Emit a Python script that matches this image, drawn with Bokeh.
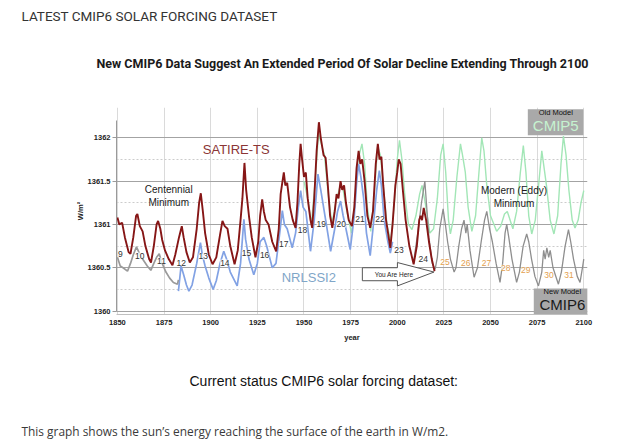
from bokeh.plotting import figure
from bokeh.models import (Range1d, Label, LabelSet, ColumnDataSource, Title,
                          SingleIntervalTicker, CustomJSTickFormatter)
from bokeh.core.properties import value
from bokeh.embed import file_html
from bokeh.resources import INLINE

# ---------------- data ----------------
satire_year = [1850, 1851, 1852.5, 1854, 1856, 1857, 1858.5, 1860, 1860.7, 1862, 1863.5, 1865, 1867, 1868,
               1869.5, 1871, 1871.8, 1873, 1874, 1875.5, 1877.5, 1879.5, 1881, 1883, 1884.5, 1885.5, 1887,
               1888.8, 1890.5, 1892.5, 1893.8, 1894.7, 1895.8, 1897, 1899, 1901, 1903, 1905, 1906.3, 1907.5,
               1909, 1910.5, 1912.8, 1914.5, 1916, 1917, 1918.1, 1919, 1920.5, 1922, 1924, 1925.5, 1926.5,
               1927.6, 1928.5, 1929.5, 1931, 1933, 1935.1, 1936.5, 1937.5, 1938.5, 1939.2, 1940, 1941, 1942.5,
               1944, 1945.5, 1946.5, 1947.5, 1948.2, 1949, 1950, 1951, 1952, 1953.5, 1954.4, 1955.5, 1956.8,
               1958, 1959, 1960.5, 1961.6, 1962.8, 1964, 1965.2, 1966.5, 1967.5, 1968.5, 1969.6, 1970.5,
               1971.5, 1972.5, 1974, 1975.7, 1977, 1978.2, 1979.3, 1980.2, 1981.2, 1982.5, 1984, 1985.5, 1987,
               1988.5, 1989.6, 1990.5, 1991.5, 1992.5, 1994, 1996.3, 1997.5, 1999, 2000, 2000.8, 2001.8, 2003,
               2004.5, 2006.5, 2008.8, 2010.5, 2011.8, 2012.5, 2013.3, 2014.2, 2015.5, 2017, 2018.5, 2020]
satire_tsi = [1361.08, 1361.00, 1361.02, 1360.85, 1360.68, 1360.66, 1360.85, 1361.10, 1361.12, 1360.98, 1360.92,
              1360.75, 1360.60, 1360.56, 1360.75, 1361.00, 1361.04, 1360.95, 1360.82, 1360.70, 1360.60, 1360.53,
              1360.65, 1360.85, 1360.98, 1360.85, 1360.68, 1360.56, 1360.62, 1360.95, 1361.25, 1361.36, 1361.15,
              1360.90, 1360.65, 1360.54, 1360.62, 1360.88, 1361.04, 1360.98, 1360.95, 1360.75, 1360.54, 1360.70,
              1361.05, 1361.30, 1361.71, 1361.40, 1361.10, 1360.85, 1360.62, 1360.80, 1361.10, 1361.29, 1361.15,
              1361.05, 1361.00, 1360.80, 1360.69, 1360.95, 1361.35, 1361.50, 1361.60, 1361.45, 1361.48, 1361.20,
              1361.05, 1360.96, 1361.25, 1361.70, 1361.93, 1361.75, 1361.55, 1361.60, 1361.30, 1361.05, 1360.96,
              1361.30, 1361.85, 1362.18, 1362.00, 1361.80, 1361.77, 1361.45, 1361.10, 1360.96, 1361.15, 1361.35,
              1361.30, 1361.50, 1361.40, 1361.45, 1361.25, 1361.05, 1360.98, 1361.20, 1361.65, 1361.85, 1361.70,
              1361.75, 1361.50, 1361.10, 1360.96, 1361.15, 1361.70, 1361.93, 1361.75, 1361.78, 1361.45, 1361.05,
              1360.73, 1361.00, 1361.45, 1361.60, 1361.75, 1361.70, 1361.40, 1361.05, 1360.75, 1360.54, 1360.75,
              1361.05, 1361.10, 1361.05, 1361.19, 1361.05, 1360.80, 1360.60, 1360.46]

nrlssi2_year = [1882.7, 1884.1, 1885.5, 1887, 1888.3, 1890, 1892.5, 1894.5, 1895.5, 1897, 1899, 1901.3, 1903,
                1905, 1907, 1908.5, 1910.5, 1914.2, 1916, 1917.8, 1918.7, 1920.5, 1923.1, 1925, 1926.5, 1928.5,
                1930, 1933, 1935, 1937, 1938.4, 1939.5, 1941, 1943.7, 1945.5, 1947, 1948.2, 1949.5, 1951,
                1953.5, 1955.5, 1957.5, 1959, 1960.5, 1962, 1964.3, 1966.5, 1968, 1969.6, 1971, 1972.5, 1974.8,
                1977, 1978.3, 1979.3, 1980.5, 1982, 1983.5, 1985.5, 1987, 1989, 1990.4, 1991.5, 1993, 1995,
                1996.3, 1997.5]
nrlssi2_tsi = [1360.23, 1360.52, 1360.42, 1360.30, 1360.23, 1360.30, 1360.55, 1360.79, 1360.65, 1360.52, 1360.38,
               1360.25, 1360.35, 1360.55, 1360.69, 1360.60, 1360.45, 1360.29, 1360.55, 1361.06, 1360.83, 1360.60,
               1360.42, 1360.55, 1360.80, 1360.85, 1360.75, 1360.50, 1360.55, 1360.90, 1361.16, 1361.00, 1360.95,
               1360.73, 1360.90, 1361.20, 1361.39, 1361.20, 1361.15, 1360.69, 1361.05, 1361.58, 1361.40, 1361.20,
               1361.00, 1360.69, 1360.95, 1361.15, 1361.27, 1361.10, 1360.95, 1360.71, 1361.10, 1361.50, 1361.70,
               1361.55, 1361.30, 1360.90, 1360.64, 1360.95, 1361.40, 1361.62, 1361.45, 1361.05, 1360.80, 1360.67,
               1360.80]

early_year = [1850, 1851.5, 1853, 1855.4, 1857, 1858.5, 1860.2, 1861.5, 1863.5, 1866, 1867.9, 1869.5, 1871,
              1872.4, 1874, 1876, 1878, 1880, 1882.2, 1882.7]
early_tsi = [1360.62, 1360.52, 1360.50, 1360.46, 1360.55, 1360.65, 1360.74, 1360.68, 1360.60, 1360.52, 1360.47,
             1360.55, 1360.62, 1360.66, 1360.55, 1360.45, 1360.38, 1360.33, 1360.31, 1360.36]

cmip5_year = [1950, 1952, 1954, 1956, 1957.8, 1959, 1961, 1963, 1965, 1967, 1969.5, 1971, 1973, 1975.5, 1977.5,
              1979, 1981.1, 1982.5, 1984, 1985.8, 1987.5, 1989.5, 1991, 1992.5, 1994.5, 1996.5, 1998.5, 2000,
              2001.2, 2002.5, 2004, 2006, 2007.9, 2010, 2012, 2013.3, 2015, 2017.5, 2019.5, 2021.5, 2023.3,
              2024.6, 2026, 2027.5, 2028.5, 2030, 2032, 2033.9, 2035, 2036.5, 2038, 2040, 2042, 2043.8, 2045.3,
              2046.5, 2048, 2050, 2053.3, 2055.5, 2057.5, 2059, 2062, 2064, 2066, 2067.6, 2069, 2070.5, 2072.1,
              2074, 2076, 2077.5, 2080, 2082, 2084, 2086, 2087.8, 2089.1, 2090.5, 2092, 2093.8, 2095.3, 2097,
              2098.5, 2100]
cmip5_tsi = [1361.50, 1361.30, 1361.00, 1361.50, 1362.05, 1361.95, 1361.80, 1361.35, 1361.00, 1361.25, 1361.45,
             1361.40, 1361.15, 1360.90, 1361.30, 1361.75, 1361.93, 1361.70, 1361.20, 1360.92, 1361.30, 1361.90,
             1361.80, 1361.45, 1361.00, 1360.80, 1361.25, 1361.75, 1361.97, 1361.75, 1361.35, 1361.00, 1360.94,
             1361.10, 1361.35, 1361.45, 1361.25, 1360.90, 1360.95, 1361.30, 1361.80, 1361.93, 1361.60, 1361.05,
             1360.89, 1361.05, 1361.55, 1361.93, 1361.80, 1361.60, 1361.20, 1360.92, 1361.10, 1361.60, 1362.00,
             1361.85, 1361.45, 1361.10, 1360.92, 1360.98, 1361.12, 1361.15, 1360.95, 1361.15, 1361.60, 1361.91,
             1361.60, 1361.10, 1360.89, 1361.05, 1361.50, 1361.85, 1361.45, 1361.05, 1360.89, 1361.10, 1361.70,
             1362.02, 1361.80, 1361.40, 1361.05, 1360.96, 1361.05, 1361.25, 1361.39]

cmip6_year = [2009, 2011, 2013, 2014.8, 2015.8, 2017, 2018.8, 2020.3, 2021.5, 2022.8, 2024.6, 2025.8, 2027,
              2028.5, 2030.5, 2031.5, 2033, 2034.5, 2035.8, 2036.8, 2037.5, 2039, 2041.2, 2043, 2045, 2046.8,
              2048, 2049.5, 2051, 2053, 2055.1, 2056.5, 2057.8, 2058.7, 2059.8, 2061.5, 2064, 2065.5, 2067.5,
              2069.4, 2070.5, 2072, 2073.8, 2075.7, 2077.5, 2078.5, 2079.3, 2080.2, 2081.2, 2082, 2083.5,
              2086.4, 2088, 2090, 2091.8, 2093, 2094.5, 2096.5, 2098, 2099.3, 2100]
cmip6_tsi = [1360.60, 1360.90, 1361.25, 1361.50, 1361.20, 1360.85, 1360.55, 1360.48, 1360.62, 1360.95, 1361.18,
             1361.00, 1360.80, 1360.60, 1360.45, 1360.50, 1360.75, 1360.95, 1361.05, 1360.90, 1361.00, 1360.70,
             1360.39, 1360.50, 1360.80, 1361.05, 1361.15, 1360.95, 1360.80, 1360.55, 1360.33, 1360.55, 1360.90,
             1361.00, 1360.85, 1360.60, 1360.33, 1360.45, 1360.75, 1360.89, 1360.80, 1360.60, 1360.40, 1360.29,
             1360.45, 1360.70, 1360.60, 1360.73, 1360.62, 1360.70, 1360.50, 1360.31, 1360.45, 1360.75, 1360.94,
             1360.80, 1360.60, 1360.40, 1360.33, 1360.50, 1360.60]

cycle_past_text = ["9", "10", "11", "12", "13", "14", "15", "16", "17", "18", "19", "20", "21", "22", "23", "24"]
cycle_past_year = [1851.6, 1862.0, 1873.6, 1884.2, 1896.0, 1907.6, 1919.2, 1928.9, 1939.2, 1949.2, 1959.3,
                   1970.0, 1980.0, 1990.7, 2000.9, 2014.0]
cycle_past_tsi = [1360.66, 1360.64, 1360.58, 1360.56, 1360.63, 1360.56, 1360.67, 1360.65, 1360.77, 1360.94,
                  1361.00, 1361.00, 1361.06, 1361.06, 1360.71, 1360.60]
cycle_future_text = ["25", "26", "27", "28", "29", "30", "31"]
cycle_future_year = [2025.6, 2036.7, 2047.8, 2058.2, 2068.9, 2081.4, 2092.1]
cycle_future_tsi = [1360.57, 1360.56, 1360.55, 1360.50, 1360.47, 1360.42, 1360.42]

x_ticks_interval = 25
y_ticks_interval = 0.5

# ---------------- annotation geometry ----------------
arrow_x = [1981.3, 2000.1, 2000.1, 2019.7, 2000.1, 2000.1, 1981.3]
arrow_y = [1360.50, 1360.50, 1360.56, 1360.45, 1360.29, 1360.35, 1360.35]
box_left = [2070.0, 2073.2]
box_right = [2099.8, 2102.1]
box_bottom = [1362.03, 1359.95]
box_top = [1362.33, 1360.26]

# ---------------- figure geometry ----------------
W, H = 636, 445
FR_L, FR_T, FR_W, FR_H = 116, 107, 471, 207
X0, X1 = 1849.5, 2102.0
Y0, Y1 = 1359.96, 1362.35
CHART_FONT = "Liberation Sans"

p = figure(width=W, height=H, x_range=Range1d(X0, X1), y_range=Range1d(Y0, Y1),
           toolbar_location=None, output_backend="svg",
           min_border_left=FR_L, min_border_right=W - FR_L - FR_W,
           min_border_top=FR_T, min_border_bottom=H - FR_T - FR_H,
           outline_line_color=None, background_fill_color="white", border_fill_color="white")

p.xaxis.ticker = SingleIntervalTicker(interval=x_ticks_interval, num_minor_ticks=0)
p.yaxis.ticker = SingleIntervalTicker(interval=y_ticks_interval, num_minor_ticks=2)
p.yaxis.formatter = CustomJSTickFormatter(code="return tick.toString();")
p.yaxis.bounds = (1360, 1362.2)
p.xaxis.axis_label = "year"
p.yaxis.axis_label = "W/m²"

for ax in (p.xaxis[0], p.yaxis[0]):
    ax.major_label_text_font = CHART_FONT
    ax.major_label_text_font_style = "bold"
    ax.major_label_text_font_size = "7.5px"
    ax.major_label_text_color = "#222222"
    ax.axis_label_text_font = CHART_FONT
    ax.axis_label_text_font_style = "bold"
    ax.axis_label_text_font_size = "7.5px"
    ax.axis_label_text_color = "#222222"
    ax.minor_tick_line_color = None
    ax.axis_line_color = "#9a9a9a"
    ax.major_tick_line_color = "#9a9a9a"

p.yaxis.major_tick_out = 4
p.yaxis.major_tick_in = 0
p.yaxis.major_label_standoff = 2
p.yaxis.axis_label_standoff = 0
p.xaxis.major_tick_out = 0
p.xaxis.major_tick_in = 0
p.xaxis.major_label_standoff = 5
p.xaxis.axis_label_standoff = 5
p.xaxis.axis_line_color = "#c0c0c0"

p.ygrid.grid_line_color = "#a3a3a3"
p.ygrid.minor_grid_line_color = "#cccccc"
p.ygrid.minor_grid_line_dash = "2 2"
p.xgrid.grid_line_color = "#dadada"

# series
p.line(cmip5_year, cmip5_tsi, line_color="#a2e6b6", line_width=1.4)
p.line(cmip6_year, cmip6_tsi, line_color="#8e8e8e", line_width=1.3)
p.line(nrlssi2_year, nrlssi2_tsi, line_color="#82a2e4", line_width=1.7)
p.line(early_year, early_tsi, line_color="#9a9a9a", line_width=1.7)
p.line(satire_year, satire_tsi, line_color="#861616", line_width=1.9)

# model boxes
p.quad(left=box_left, right=box_right, bottom=box_bottom, top=box_top,
       fill_color="#a9a9a9", line_color=None)

# you-are-here arrow
p.patch(arrow_x, arrow_y, fill_color="white", line_color="#555555", line_width=1)
p.add_layout(Label(x=1998.3, y=1360.42, text="You Are Here", text_font=CHART_FONT,
                   text_font_size="6.5px", text_color="#222222", text_align="center", text_baseline="middle"))

# cycle numbers
past_src = ColumnDataSource(dict(x=cycle_past_year, y=cycle_past_tsi, t=cycle_past_text))
fut_src = ColumnDataSource(dict(x=cycle_future_year, y=cycle_future_tsi, t=cycle_future_text))
p.add_layout(LabelSet(x="x", y="y", text="t", source=past_src, text_font=value(CHART_FONT),
                      text_font_size="8.5px", text_color="#333333", text_align="center",
                      text_baseline="middle", background_fill_color="white", background_fill_alpha=0.8))
p.add_layout(LabelSet(x="x", y="y", text="t", source=fut_src, text_font=value(CHART_FONT),
                      text_font_size="8.5px", text_color="#e3a04e", text_align="center",
                      text_baseline="middle", background_fill_color="white", background_fill_alpha=0.8))


def note(x, y, text, size, color, style="normal"):
    p.add_layout(Label(x=x, y=y, text=text, text_font=CHART_FONT, text_font_size=size,
                       text_color=color, text_font_style=style, text_align="center", text_baseline="middle"))


note(1913.7, 1361.868, "SATIRE-TS", "13px", "#8b3535")
note(1952.6, 1360.385, "NRLSSI2", "13px", "#7fa6c8")
note(1877.5, 1361.407, "Centennial", "10px", "#1a1a1a")
note(1877.5, 1361.252, "Minimum", "10px", "#1a1a1a")
note(2062.6, 1361.395, "Modern (Eddy)", "10px", "#1a1a1a")
note(2062.6, 1361.240, "Minimum", "10px", "#1a1a1a")
note(2085.0, 1362.29, "Old Model", "7.5px", "#111111")
note(2085.0, 1362.14, "CMIP5", "15px", "#c6f3d0")
note(2088.5, 1360.222, "New Model", "7.5px", "#111111")
note(2088.5, 1360.08, "CMIP6", "15px", "#1a1a1a")

# ---------------- page texts around the chart (side-panel titles) ----------------
# above: first added sits next to the plot area
p.add_layout(Title(text=" ", align="left", vertical_align="middle", standoff=2,
                   text_font=CHART_FONT, text_font_size="1px"), "above")
p.add_layout(Title(text="New CMIP6 Data Suggest  An Extended Period Of Solar Decline Extending Through 2100",
                   align="left", offset=-20, vertical_align="middle", standoff=61,
                   text_font="Roboto", text_font_size="12.5px", text_font_style="bold",
                   text_color="#1a1a1a"), "above")
p.add_layout(Title(text="LATEST CMIP6 SOLAR FORCING DATASET",
                   align="left", offset=-95, vertical_align="middle", standoff=0,
                   text_font="Roboto", text_font_size="13.5px", text_font_style="normal",
                   text_color="#333333"), "above")
# below: after the x axis
p.add_layout(Title(text="Current status CMIP6 solar forcing dataset:",
                   align="left", offset=73, vertical_align="middle", standoff=54,
                   text_font=CHART_FONT, text_font_size="14px", text_font_style="normal",
                   text_color="#111111"), "below")
p.add_layout(Title(text="This graph shows the sun’s energy reaching the surface of the earth in W/m2.",
                   align="left", offset=-95, vertical_align="middle", standoff=10.5,
                   text_font="Open Sans", text_font_size="11.9px", text_font_style="normal",
                   text_color="#3a3a3a"), "below")

open("out.html", "w").write(file_html(p, INLINE))
